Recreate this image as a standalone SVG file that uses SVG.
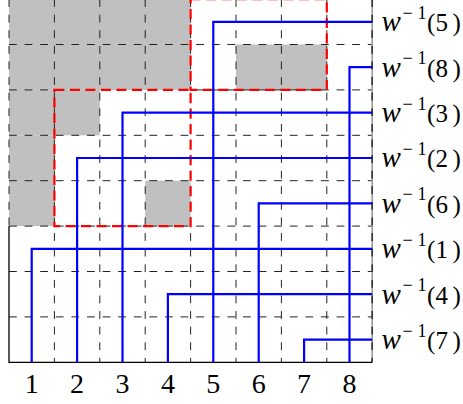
<svg xmlns="http://www.w3.org/2000/svg" width="463" height="404" viewBox="0 0 463 404">
<style>
.cell{fill:#c0c0c0;stroke:none}
.grid{stroke:#222;stroke-width:1;stroke-dasharray:7.8 7.8;fill:none}
.red{stroke:#ff0000;stroke-width:2.2;stroke-dasharray:10 5.5;fill:none}
.blue{stroke:#0000ff;stroke-width:2.2;fill:none}
.lab{font-family:"Liberation Serif",serif;font-size:25px;fill:#000}
.w{font-style:italic;font-size:29px}
.sup{font-size:18px}
.num{font-family:"Liberation Serif",serif;font-size:28px;fill:#000;text-anchor:middle}
</style>
<rect x="0" y="0" width="463" height="404" fill="#fff"/>
<g id="shading">
<rect class="cell" x="9" y="0" width="181.6" height="89.9"/>
<rect class="cell" x="236" y="44.5" width="90.8" height="45.4"/>
<rect class="cell" x="9" y="89.9" width="90.8" height="45.4"/>
<rect class="cell" x="9" y="135.3" width="45.4" height="90.8"/>
<rect class="cell" x="145.2" y="180.7" width="45.4" height="45.4"/>
</g>
<g id="grid">
<path class="grid" d="M9,-0.9H372.2M9,44.5H372.2M9,89.9H372.2M9,135.3H372.2M9,180.7H372.2M9,226.1H372.2M9,271.5H372.2M9,316.9H372.2"/>
<path class="grid" d="M9,-0.9V226.1M54.4,-0.9V362.3M99.8,-0.9V362.3M145.2,-0.9V362.3M190.6,-0.9V362.3M236,-0.9V362.3M281.4,-0.9V362.3M326.8,-0.9V362.3"/>
<path d="M372.2,-0.9V362.3" stroke="#999" stroke-width="1.6" fill="none"/>
<path d="M372.2,-0.9V362.3" stroke="#333" stroke-width="1.6" stroke-dasharray="7.8 7.8" fill="none"/>
<path d="M9,226.1V362.3H372.2" stroke="#000" stroke-width="1.3" fill="none"/>
</g>
<g id="regions">
<rect class="red" x="54.4" y="89.9" width="136.2" height="136.2"/>
<rect class="red" x="190.6" y="-0.9" width="136.2" height="90.8"/>
</g>
<g id="connectors">
<path class="blue" d="M213.3,362.3V21.8H372.2"/>
<path class="blue" d="M349.5,362.3V67.2H372.2"/>
<path class="blue" d="M122.5,362.3V112.6H372.2"/>
<path class="blue" d="M77.1,362.3V158H372.2"/>
<path class="blue" d="M258.7,362.3V203.4H372.2"/>
<path class="blue" d="M31.7,362.3V248.8H372.2"/>
<path class="blue" d="M167.9,362.3V294.2H372.2"/>
<path class="blue" d="M304.1,362.3V339.6H372.2"/>
</g>
<g id="labels">
<text class="lab" y="31.1"><tspan class="w" x="381.5">w</tspan><tspan class="sup" x="402.5 417.5" dy="-12.4">−1</tspan><tspan x="427 435.5 452.5" dy="12.4">(5)</tspan></text>
<text class="lab" y="76.5"><tspan class="w" x="381.5">w</tspan><tspan class="sup" x="402.5 417.5" dy="-12.4">−1</tspan><tspan x="427 435.5 452.5" dy="12.4">(8)</tspan></text>
<text class="lab" y="121.9"><tspan class="w" x="381.5">w</tspan><tspan class="sup" x="402.5 417.5" dy="-12.4">−1</tspan><tspan x="427 435.5 452.5" dy="12.4">(3)</tspan></text>
<text class="lab" y="167.3"><tspan class="w" x="381.5">w</tspan><tspan class="sup" x="402.5 417.5" dy="-12.4">−1</tspan><tspan x="427 435.5 452.5" dy="12.4">(2)</tspan></text>
<text class="lab" y="212.7"><tspan class="w" x="381.5">w</tspan><tspan class="sup" x="402.5 417.5" dy="-12.4">−1</tspan><tspan x="427 435.5 452.5" dy="12.4">(6)</tspan></text>
<text class="lab" y="258.1"><tspan class="w" x="381.5">w</tspan><tspan class="sup" x="402.5 417.5" dy="-12.4">−1</tspan><tspan x="427 435.5 452.5" dy="12.4">(1)</tspan></text>
<text class="lab" y="303.5"><tspan class="w" x="381.5">w</tspan><tspan class="sup" x="402.5 417.5" dy="-12.4">−1</tspan><tspan x="427 435.5 452.5" dy="12.4">(4)</tspan></text>
<text class="lab" y="348.9"><tspan class="w" x="381.5">w</tspan><tspan class="sup" x="402.5 417.5" dy="-12.4">−1</tspan><tspan x="427 435.5 452.5" dy="12.4">(7)</tspan></text>
</g>
<g id="axis">
<text class="num" x="31.7" y="393.3">1</text>
<text class="num" x="77.1" y="393.3">2</text>
<text class="num" x="122.5" y="393.3">3</text>
<text class="num" x="167.9" y="393.3">4</text>
<text class="num" x="213.3" y="393.3">5</text>
<text class="num" x="258.7" y="393.3">6</text>
<text class="num" x="304.1" y="393.3">7</text>
<text class="num" x="349.5" y="393.3">8</text>
</g>
</svg>
